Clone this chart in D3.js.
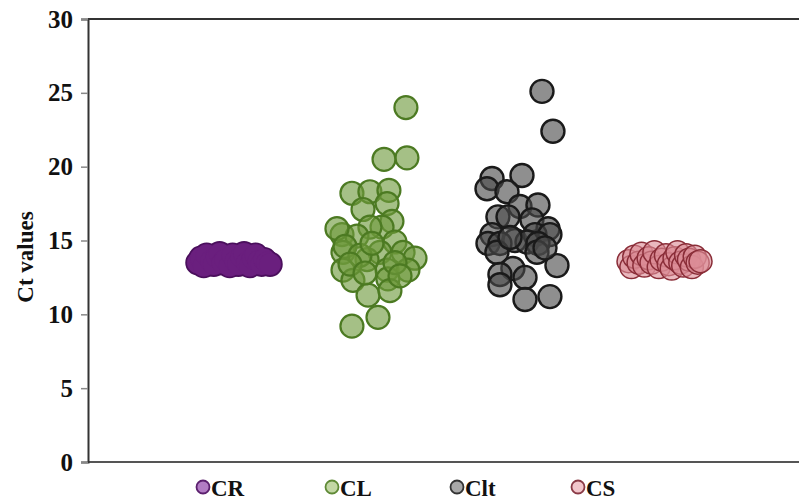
<!DOCTYPE html>
<html>
<head>
<meta charset="utf-8">
<script src="https://cdn.jsdelivr.net/npm/d3@7"></script>
<style>
  html, body { margin: 0; padding: 0; background: #fff; }
  svg { display: block; }
  text { font-family: "Liberation Serif", "Times New Roman", serif; font-weight: bold; fill: #111; }
</style>
</head>
<body>
<svg id="chart" width="799" height="499"></svg>
<script>
// Categories (sample groups) and their legend labels
const categories = ["CR", "CL", "Clt", "CS"];
const yTicks = [0, 5, 10, 15, 20, 25, 30];

// Each point: [horizontal jitter within the group (group units), Ct value]
const valuesCR = [
  [-0.25, 13.5], [-0.23, 13.8], [-0.21, 13.3], [-0.19, 14.0], [-0.16, 13.6],
  [-0.14, 13.4], [-0.12, 13.9], [-0.10, 14.1], [-0.08, 13.5], [-0.06, 13.7],
  [-0.03, 13.3], [-0.01, 14.0], [0.01, 13.6], [0.03, 13.4], [0.05, 13.9],
  [0.07, 14.1], [0.09, 13.5], [0.11, 13.3], [0.13, 13.8], [0.15, 14.0],
  [0.17, 13.6], [0.19, 13.4], [0.21, 13.7], [0.23, 13.5], [0.25, 13.4]
];
const valuesCL = [
  [0.194, 24.0], [0.042, 20.5], [0.201, 20.6], [-0.181, 18.2], [-0.056, 18.3],
  [0.076, 18.4], [-0.104, 17.1], [0.063, 17.5], [0.097, 16.3], [0.028, 15.9],
  [-0.056, 15.9], [-0.250, 15.4], [-0.146, 15.3], [-0.285, 15.8], [0.118, 14.9],
  [-0.243, 14.2], [0.014, 14.2], [0.174, 14.2], [0.257, 13.8], [-0.076, 13.7],
  [-0.243, 13.0], [0.063, 13.0], [0.208, 13.0], [-0.174, 12.3], [0.069, 12.4],
  [-0.069, 11.3], [0.083, 11.6], [0.000, 9.8], [-0.181, 9.2], [-0.229, 14.6],
  [-0.125, 14.0], [-0.042, 14.8], [0.118, 13.5], [-0.194, 13.4], [-0.090, 12.8],
  [0.153, 12.6]
];
const valuesClt = [
  [0.139, 25.1], [0.215, 22.4], [-0.208, 19.2], [0.000, 19.4], [-0.243, 18.5],
  [-0.104, 18.3], [-0.014, 17.3], [0.111, 17.4], [-0.167, 16.6], [-0.097, 16.6],
  [0.069, 16.4], [0.181, 15.8], [-0.208, 15.4], [-0.049, 15.0], [0.090, 15.4],
  [0.194, 15.4], [-0.236, 14.8], [-0.153, 14.8], [0.035, 14.9], [0.111, 14.8],
  [-0.174, 14.2], [0.104, 14.2], [-0.063, 13.1], [0.243, 13.3], [-0.153, 12.7],
  [0.021, 12.5], [-0.153, 12.0], [0.021, 11.0], [0.194, 11.2], [-0.083, 15.2],
  [0.160, 14.5]
];
const valuesCS = [
  [-0.26, 13.6], [-0.24, 13.2], [-0.22, 13.9], [-0.19, 13.5], [-0.17, 14.1],
  [-0.15, 13.3], [-0.12, 13.8], [-0.10, 13.5], [-0.08, 14.2], [-0.05, 13.2],
  [-0.03, 13.7], [0.00, 14.0], [0.02, 13.4], [0.04, 13.1], [0.06, 13.8],
  [0.08, 14.2], [0.10, 13.5], [0.12, 13.3], [0.14, 14.0], [0.16, 13.7],
  [0.18, 13.2], [0.20, 13.9], [0.22, 13.5], [0.24, 13.6]
];

const seriesValues = [valuesCR, valuesCL, valuesClt, valuesCS];

// Visual styles per group; "merged" groups are drawn as one blob with an outer outline only
const styles = [
  { fill: "#6a1f7e", fillOpacity: 1, stroke: "#4a0f5c", width: 2.5, merged: true, legendFill: "#b27cc4", legendStroke: "#5b1f6e" },
  { fill: "#6e9a3c", fillOpacity: 0.62, stroke: "#4c7a22", width: 2.2, merged: false, legendFill: "#c3d7a5", legendStroke: "#5f8a36" },
  { fill: "#4a4a4a", fillOpacity: 0.62, stroke: "#1a1a1a", width: 2.4, merged: false, legendFill: "#a8a8a8", legendStroke: "#333333" },
  { fill: "#dc8d96", fillOpacity: 0.62, stroke: "#8a2d38", width: 1.5, merged: false, legendFill: "#f2c6cc", legendStroke: "#8a3a46" }
];

const svg = d3.select("#chart");
const plotLeft = 88, plotRight = 799, plotTop = 19, plotBottom = 462;
const R = 11.5;

// Group index (plus jitter) → horizontal pixel
const x = d3.scaleLinear().domain([-1.014, 3.924]).range([plotLeft, plotRight]);
const y = d3.scaleLinear().domain([0, 30]).range([plotBottom, plotTop]);

// Frame: top line and x baseline span the full width
svg.append("line").attr("x1", plotLeft).attr("x2", plotRight).attr("y1", plotTop).attr("y2", plotTop)
  .attr("stroke", "#333").attr("stroke-width", 2);
svg.append("line").attr("x1", plotLeft).attr("x2", plotRight).attr("y1", plotBottom).attr("y2", plotBottom)
  .attr("stroke", "#555").attr("stroke-width", 2);

// Y axis
const yAxis = d3.axisLeft(y).tickValues(yTicks).tickSize(7).tickPadding(8).tickFormat(d3.format("d"));
const gy = svg.append("g").attr("transform", `translate(${plotLeft},0)`).call(yAxis);
gy.select(".domain").attr("stroke", "#333").attr("stroke-width", 2);
gy.selectAll(".tick line").attr("stroke", "#888").attr("stroke-width", 1.5);
gy.selectAll(".tick text")
  .style("font-family", '"Liberation Serif", "Times New Roman", serif')
  .style("font-weight", "bold").style("font-size", "25px").attr("fill", "#111");

// Y axis title
svg.append("text")
  .attr("transform", `translate(33,257) rotate(-90)`)
  .attr("text-anchor", "middle")
  .style("font-size", "23px")
  .text("Ct values");

// Points
seriesValues.forEach((vals, i) => {
  const st = styles[i];
  const g = svg.append("g");
  if (st.merged) {
    // outline layer first, fills on top so only the outer edge shows
    g.selectAll("circle.edge").data(vals).join("circle").attr("class", "edge")
      .attr("cx", d => x(i + d[0])).attr("cy", d => y(d[1])).attr("r", R)
      .attr("fill", st.stroke).attr("stroke", st.stroke).attr("stroke-width", st.width);
    g.selectAll("circle.body").data(vals).join("circle").attr("class", "body")
      .attr("cx", d => x(i + d[0])).attr("cy", d => y(d[1])).attr("r", R - 0.6)
      .attr("fill", st.fill).attr("stroke", st.fill).attr("stroke-opacity", 0.5).attr("stroke-width", 0.6);
  } else {
    g.selectAll("circle").data(vals).join("circle")
      .attr("cx", d => x(i + d[0]))
      .attr("cy", d => y(d[1]))
      .attr("r", R)
      .attr("fill", st.fill)
      .attr("fill-opacity", st.fillOpacity)
      .attr("stroke", st.stroke)
      .attr("stroke-width", st.width);
  }
});

// Legend along the bottom
const legendX = [203, 332, 457, 578];
const legend = svg.append("g").selectAll("g").data(categories).join("g")
  .attr("transform", (d, i) => `translate(${legendX[i]},487)`);
legend.append("circle")
  .attr("r", 6.5)
  .attr("fill", (d, i) => styles[i].legendFill)
  .attr("stroke", (d, i) => styles[i].legendStroke)
  .attr("stroke-width", 1.8);
legend.append("text")
  .attr("x", 8)
  .attr("y", 8.5)
  .style("font-size", "23px")
  .text(d => d);
</script>
</body>
</html>
